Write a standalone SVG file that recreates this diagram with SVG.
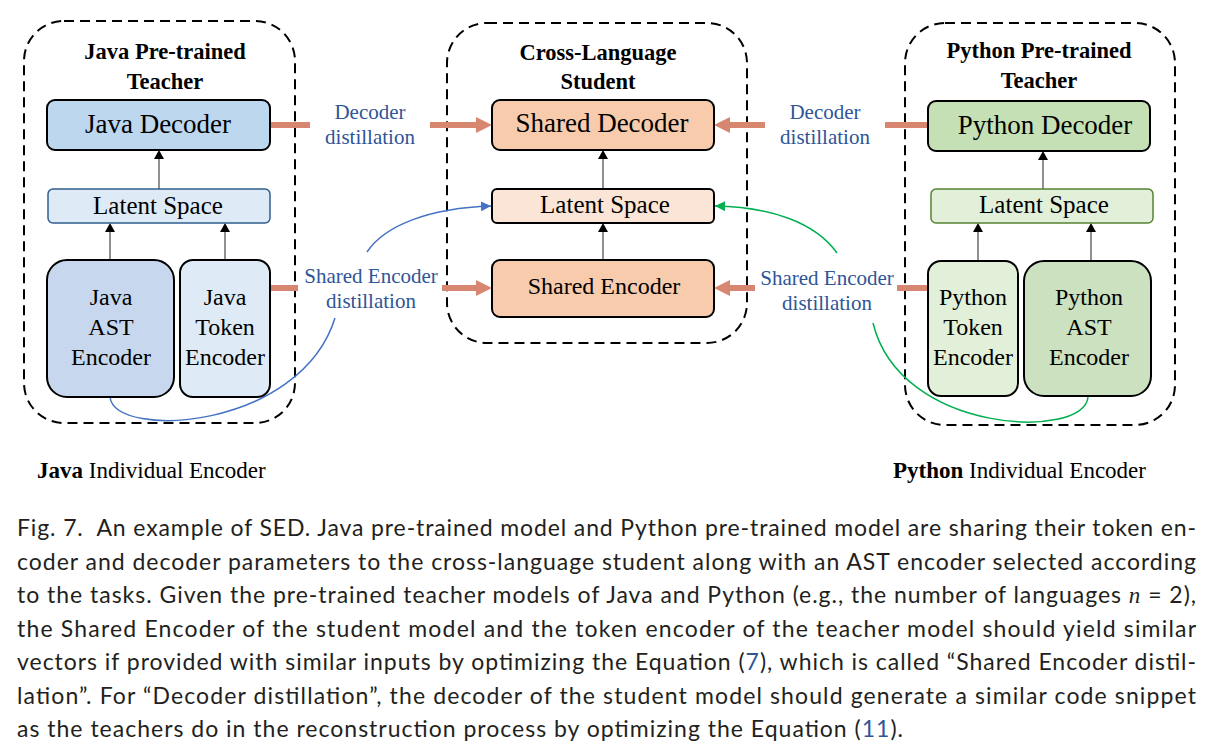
<svg xmlns="http://www.w3.org/2000/svg" width="1217" height="751" viewBox="0 0 1217 751">
<style>
.serif{font-family:"Liberation Serif","Times New Roman",serif;fill:#000}
.title{font-weight:bold;font-size:22.5px;text-anchor:middle}
.big{font-size:27px;text-anchor:middle}
.mid{font-size:25px;text-anchor:middle}
.enc{font-size:24px;text-anchor:middle}
.lbl{font-family:"Liberation Serif","Times New Roman",serif;font-size:21px;fill:#2F5597;text-anchor:middle}
.cont{fill:none;stroke:#000;stroke-width:2;stroke-dasharray:10 6}
.box{stroke:#000;stroke-width:2}
.sal{stroke:#D7866F;stroke-width:6;fill:none}
.salh{fill:#D7866F}
.thin{stroke:#6b6b6b;stroke-width:1.5}
.cap{font-family:Lato,"Open Sans",sans-serif;font-size:23px;fill:#231f20}
.link{fill:#2F5597}
</style>
<defs>
<marker id="mb" viewBox="0 0 10 10" refX="10" refY="5" markerWidth="10" markerHeight="10" markerUnits="userSpaceOnUse" orient="auto"><path d="M0,0 L10,5 L0,10 z" fill="#4472C4"/></marker>
<marker id="mg" viewBox="0 0 10 10" refX="10" refY="5" markerWidth="10" markerHeight="10" markerUnits="userSpaceOnUse" orient="auto"><path d="M0,0 L10,5 L0,10 z" fill="#00B050"/></marker>
</defs>
<rect width="1217" height="751" fill="#fff"/>

<g id="java-teacher">
<rect class="cont" x="24" y="21" width="271" height="402" rx="40"/>
<text class="serif title" x="165" y="59">Java Pre-trained</text>
<text class="serif title" x="165" y="89">Teacher</text>
</g>
<g id="student">
<rect class="cont" x="447" y="23" width="300" height="320" rx="40"/>
<text class="serif title" x="598" y="60">Cross-Language</text>
<text class="serif title" x="598" y="89">Student</text>
</g>
<g id="python-teacher">
<rect class="cont" x="905" y="23" width="270" height="402" rx="40"/>
<text class="serif title" x="1039" y="58">Python Pre-trained</text>
<text class="serif title" x="1039" y="88">Teacher</text>
</g>

<g id="connectors">
<line class="thin" x1="110" y1="260" x2="110" y2="232"/><polygon points="105,232 115,232 110,223" fill="#000"/>
<line class="thin" x1="225" y1="260" x2="225" y2="232"/><polygon points="220,232 230,232 225,223" fill="#000"/>
<line class="thin" x1="159" y1="189" x2="159" y2="159"/><polygon points="154,159 164,159 159,150" fill="#000"/>
<line class="thin" x1="603" y1="260" x2="603" y2="232"/><polygon points="598,232 608,232 603,223" fill="#000"/>
<line class="thin" x1="603" y1="189" x2="603" y2="159"/><polygon points="598,159 608,159 603,150" fill="#000"/>
<line class="thin" x1="978" y1="261" x2="978" y2="232"/><polygon points="973,232 983,232 978,223" fill="#000"/>
<line class="thin" x1="1091" y1="261" x2="1091" y2="232"/><polygon points="1086,232 1096,232 1091,223" fill="#000"/>
<line class="thin" x1="1043" y1="189" x2="1043" y2="160"/><polygon points="1038,160 1048,160 1043,151" fill="#000"/>

<line class="sal" x1="270" y1="125" x2="310" y2="125"/>
<line class="sal" x1="430" y1="125" x2="477" y2="125"/><polygon class="salh" points="476,117 492,125 476,133"/>
<line class="sal" x1="270" y1="288" x2="298" y2="288"/>
<line class="sal" x1="442" y1="288" x2="477" y2="288"/><polygon class="salh" points="476,280 492,288 476,296"/>
<line class="sal" x1="928" y1="125" x2="885" y2="125"/>
<line class="sal" x1="765" y1="125" x2="729" y2="125"/><polygon class="salh" points="730,117 714,125 730,133"/>
<line class="sal" x1="928" y1="288" x2="897" y2="288"/>
<line class="sal" x1="755" y1="288" x2="729" y2="288"/><polygon class="salh" points="730,280 714,288 730,296"/>

<path d="M110,397 C115,440 300,430 335,318" fill="none" stroke="#4472C4" stroke-width="1.5"/>
<path d="M367,252 C385,225 430,208 491,206" fill="none" stroke="#4472C4" stroke-width="1.5" marker-end="url(#mb)"/>
<path d="M1088,397 C1085,440 900,435 873,323" fill="none" stroke="#00B050" stroke-width="1.5"/>
<path d="M837,253 C815,222 770,207 715,206" fill="none" stroke="#00B050" stroke-width="1.5" marker-end="url(#mg)"/>

<text class="lbl" x="370" y="119">Decoder</text>
<text class="lbl" x="370" y="144">distillation</text>
<text class="lbl" x="371" y="283">Shared Encoder</text>
<text class="lbl" x="371" y="308">distillation</text>
<text class="lbl" x="825" y="119">Decoder</text>
<text class="lbl" x="825" y="144">distillation</text>
<text class="lbl" x="827" y="285">Shared Encoder</text>
<text class="lbl" x="827" y="310">distillation</text>
</g>

<g id="java-decoder">
<rect class="box" x="47" y="100" width="223" height="50" rx="8" fill="#BDD7EE"/>
<text class="serif big" x="158" y="133">Java Decoder</text>
</g>
<g id="java-latent">
<rect x="48" y="189" width="222" height="34" rx="5" fill="#DEEBF7" stroke="#2F5F8F" stroke-width="1.5"/>
<text class="serif mid" x="158" y="214">Latent Space</text>
</g>
<g id="java-ast-encoder">
<rect class="box" x="47" y="260" width="127" height="137" rx="20" fill="#C7D8EE"/>
<text class="serif enc" x="111" y="305">Java</text>
<text class="serif enc" x="111" y="335">AST</text>
<text class="serif enc" x="111" y="365">Encoder</text>
</g>
<g id="java-token-encoder">
<rect class="box" x="180" y="260" width="90" height="137" rx="13" fill="#DEEBF7"/>
<text class="serif enc" x="225" y="305">Java</text>
<text class="serif enc" x="225" y="335">Token</text>
<text class="serif enc" x="225" y="365">Encoder</text>
</g>

<g id="shared-decoder">
<rect class="box" x="492" y="100" width="222" height="50" rx="8" fill="#F8CBAD"/>
<text class="serif big" x="602" y="132">Shared Decoder</text>
</g>
<g id="shared-latent">
<rect class="box" x="492" y="189" width="222" height="34" rx="5" fill="#FBE5D6" stroke-width="1.5"/>
<text class="serif mid" x="605" y="213">Latent Space</text>
</g>
<g id="shared-encoder">
<rect class="box" x="492" y="260" width="222" height="57" rx="8" fill="#F8CBAD" stroke-width="2.5"/>
<text class="serif enc" x="604" y="294">Shared Encoder</text>
</g>

<g id="python-decoder">
<rect class="box" x="928" y="101" width="222" height="50" rx="8" fill="#C5E0B4"/>
<text class="serif big" x="1045" y="134">Python Decoder</text>
</g>
<g id="python-latent">
<rect x="931" y="189" width="222" height="34" rx="5" fill="#E2F0D9" stroke="#548235" stroke-width="1.5"/>
<text class="serif mid" x="1044" y="213">Latent Space</text>
</g>
<g id="python-token-encoder">
<rect class="box" x="928" y="261" width="90" height="135" rx="13" fill="#E2F0D9"/>
<text class="serif enc" x="973" y="305">Python</text>
<text class="serif enc" x="973" y="335">Token</text>
<text class="serif enc" x="973" y="365">Encoder</text>
</g>
<g id="python-ast-encoder">
<rect class="box" x="1024" y="261" width="127" height="135" rx="20" fill="#CCE1BF"/>
<text class="serif enc" x="1089" y="305">Python</text>
<text class="serif enc" x="1089" y="335">AST</text>
<text class="serif enc" x="1089" y="365">Encoder</text>
</g>

<g id="legend">
<text class="serif" x="37" y="478" font-size="23"><tspan font-weight="bold">Java</tspan> Individual Encoder</text>
<text class="serif" x="893" y="478" font-size="23"><tspan font-weight="bold">Python</tspan> Individual Encoder</text>
</g>

<g id="caption">
<text class="cap" x="17" y="536" textLength="1179" lengthAdjust="spacing">Fig. 7.&#160; An example of SED. Java pre-trained model and Python pre-trained model are sharing their token en-</text>
<text class="cap" x="17" y="569.5" textLength="1179" lengthAdjust="spacing">coder and decoder parameters to the cross-language student along with an AST encoder selected according</text>
<text class="cap" x="17" y="603" textLength="1179" lengthAdjust="spacing">to the tasks. Given the pre-trained teacher models of Java and Python (e.g., the number of languages <tspan font-style="italic" font-family="Liberation Serif">n</tspan> = 2),</text>
<text class="cap" x="17" y="636.5" textLength="1179" lengthAdjust="spacing">the Shared Encoder of the student model and the token encoder of the teacher model should yield similar</text>
<text class="cap" x="17" y="670" textLength="1179" lengthAdjust="spacing">vectors if provided with similar inputs by optimizing the Equation (<tspan class="link">7</tspan>), which is called “Shared Encoder distil-</text>
<text class="cap" x="17" y="703.5" textLength="1179" lengthAdjust="spacing">lation”. For “Decoder distillation”, the decoder of the student model should generate a similar code snippet</text>
<text class="cap" x="17" y="737" textLength="886" lengthAdjust="spacing">as the teachers do in the reconstruction process by optimizing the Equation (<tspan class="link">11</tspan>).</text>
</g>
</svg>
